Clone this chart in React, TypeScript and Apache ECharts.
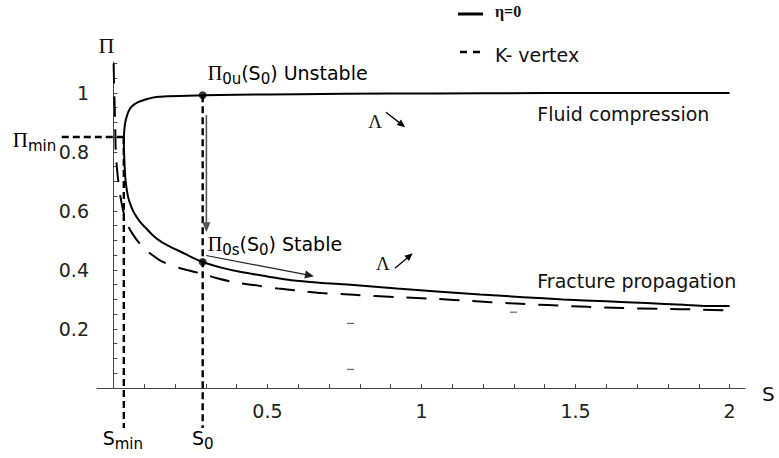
import React, { useEffect, useRef } from "react";
import * as echarts from "echarts";

// ---- data ----
const etaZeroName = "η=0";
const kVertexName = "K- vertex";

// η=0 curve (upper branch right→left, then lower branch left→right)
const etaZero: [number, number][] = [
  [2.0, 1.0], [1.6, 1.0], [1.2, 0.999], [0.9, 0.998], [0.6, 0.996], [0.4, 0.994],
  [0.29, 0.992], [0.178, 0.989], [0.13, 0.985], [0.102, 0.977], [0.08, 0.969],
  [0.064, 0.958], [0.052, 0.943], [0.044, 0.922], [0.038, 0.896], [0.035, 0.865],
  [0.034, 0.835], [0.035, 0.795], [0.037, 0.745], [0.04, 0.7], [0.048, 0.647],
  [0.06, 0.61], [0.069, 0.591], [0.085, 0.566], [0.102, 0.546], [0.128, 0.518],
  [0.156, 0.495], [0.19, 0.476], [0.221, 0.461], [0.255, 0.443], [0.29, 0.427],
  [0.35, 0.408], [0.415, 0.393], [0.5, 0.378], [0.578, 0.365], [0.68, 0.356],
  [0.76, 0.351], [0.92, 0.337], [1.05, 0.327], [1.19, 0.317], [1.33, 0.308],
  [1.46, 0.3], [1.6, 0.294], [1.73, 0.288], [1.85, 0.282], [1.925, 0.278], [2.0, 0.278],
];

const kVertex: [number, number][] = [
  [0.001, 1.1], [0.003, 1.0], [0.006, 0.9], [0.008, 0.8], [0.014, 0.72], [0.022, 0.655],
  [0.03, 0.61], [0.037, 0.58], [0.05, 0.545], [0.064, 0.52], [0.085, 0.49],
  [0.107, 0.467], [0.156, 0.43], [0.22, 0.405], [0.286, 0.388], [0.34, 0.371],
  [0.405, 0.356], [0.47, 0.347], [0.534, 0.337], [0.6, 0.33], [0.675, 0.322],
  [0.78, 0.316], [0.92, 0.308], [1.05, 0.302], [1.16, 0.295], [1.29, 0.287],
  [1.41, 0.281], [1.54, 0.275], [1.65, 0.271], [1.78, 0.268], [1.9, 0.266], [2.0, 0.263],
];

const S0 = 0.29;
const SMIN = 0.034;
const PI_MIN = 0.851;
const PI_0U = 0.992;
const PI_0S = 0.427;

const xTickValues = [0.1, 0.2, 0.3, 0.4, 0.5, 0.6, 0.7, 0.8, 0.9, 1, 1.1, 1.2, 1.3, 1.4, 1.5, 1.6, 1.7, 1.8, 1.9, 2];
const xLabelValues = [0.5, 1, 1.5, 2];
const yTickValues = [0.05, 0.1, 0.15, 0.2, 0.25, 0.3, 0.35, 0.4, 0.45, 0.5, 0.55, 0.6, 0.65, 0.7, 0.75, 0.8, 0.85, 0.9, 0.95, 1, 1.05, 1.1];
const yLabelValues = [0.2, 0.4, 0.6, 0.8, 1];

// annotation anchors in data coordinates
const fluidLabelAt: [number, number] = [1.376, 0.93];
const fractureLabelAt: [number, number] = [1.376, 0.363];
const lambdaUpAt: [number, number] = [0.85, 0.904];
const lambdaUpArrow: [number, number][] = [[0.885, 0.935], [0.947, 0.884]];
const lambdaLowAt: [number, number] = [0.875, 0.423];
const lambdaLowArrow: [number, number][] = [[0.914, 0.406], [0.972, 0.457]];
const dropArrow: [number, number][] = [[0.302, 0.925], [0.302, 0.528]];
const stableArrow: [number, number][] = [[0.301, 0.449], [0.651, 0.379]];
const strayMarks: [number, number][] = [[0.768, 0.219], [0.768, 0.063], [1.297, 0.257]];

const SANS = "DejaVu Sans";
const SERIF = "Liberation Serif";
const INK = "#111";

function arrow(x1: number, y1: number, x2: number, y2: number, color: string, width: number, hl: number, hw: number) {
  const dx = x2 - x1, dy = y2 - y1;
  const L = Math.hypot(dx, dy);
  const ux = dx / L, uy = dy / L;
  const bx = x2 - ux * hl, by = y2 - uy * hl;
  return [
    { type: "line", silent: true, z: 50, shape: { x1, y1, x2: bx + ux * 1, y2: by + uy * 1 }, style: { stroke: color, lineWidth: width } },
    {
      type: "polygon", silent: true, z: 50,
      shape: { points: [[x2, y2], [bx - (uy * hw) / 2, by + (ux * hw) / 2], [bx + (uy * hw) / 2, by - (ux * hw) / 2]] },
      style: { fill: color },
    },
  ];
}

const subRich = {
  p: { fontFamily: SERIF, fontSize: 20, lineHeight: 26, verticalAlign: "middle", color: INK },
  t: { fontFamily: SANS, fontSize: 19, lineHeight: 26, verticalAlign: "middle", color: INK },
  s: { fontFamily: SANS, fontSize: 15, lineHeight: 14, verticalAlign: "bottom", color: INK },
};

export default function App() {
  const ref = useRef<HTMLDivElement>(null);
  useEffect(() => {
    if (!ref.current) return;
    const chart = echarts.init(ref.current, undefined, { renderer: "svg" });
    const axisColor = "#444";
    chart.setOption({
      animation: false,
      backgroundColor: "#fff",
      grid: { left: 97, top: 62, width: 648, height: 326, containLabel: false },
      xAxis: {
        type: "value",
        min: -0.053,
        max: 2.05,
        axisLine: { onZero: true, lineStyle: { color: axisColor, width: 1 } },
        axisTick: { show: true, inside: true, length: 4, customValues: xTickValues, lineStyle: { color: axisColor } },
        axisLabel: {
          customValues: xLabelValues,
          formatter: (v: number) => String(v),
          margin: 13,
          fontSize: 19,
          fontFamily: SANS,
          color: "#222",
        },
        splitLine: { show: false },
      },
      yAxis: {
        type: "value",
        min: 0,
        max: 1.105,
        axisLine: { onZero: true, lineStyle: { color: axisColor, width: 1 } },
        axisTick: { show: true, inside: true, length: 4, customValues: yTickValues, lineStyle: { color: axisColor } },
        axisLabel: {
          customValues: yLabelValues,
          formatter: (v: number) => String(v),
          margin: 8,
          fontSize: 19,
          fontFamily: SANS,
          color: "#222",
        },
        splitLine: { show: false },
      },
      series: [
        {
          name: etaZeroName,
          type: "line",
          data: etaZero,
          showSymbol: false,
          smooth: 0.3,
          lineStyle: { color: "#000", width: 2 },
          z: 5,
        },
        {
          name: kVertexName,
          type: "line",
          data: kVertex,
          showSymbol: false,
          smooth: 0.3,
          lineStyle: { color: "#000", width: 2, type: [20, 13] },
          z: 4,
        },
        {
          type: "scatter",
          data: [[S0, PI_0U], [S0, PI_0S]],
          symbolSize: 8,
          itemStyle: { color: "#000" },
          z: 10,
        },
      ],
    });

    const P = (s: number, p: number) => chart.convertToPixel({ gridIndex: 0 }, [s, p]) as number[];
    const origin = P(0, 0);
    const axisY = origin[1];
    const axisTop = P(0, 1.105);
    const axisRight = P(2.05, 0);
    const dash = { stroke: "#000", lineWidth: 2.4, lineDash: [7, 4] };

    const g: any[] = [];
    const pm = P(SMIN, PI_MIN);
    const pu = P(S0, PI_0U);
    // Π_min horizontal dashed
    g.push({ type: "line", silent: true, z: 40, shape: { x1: pm[0] - 62, y1: pm[1], x2: pm[0], y2: pm[1] }, style: dash });
    // S_min vertical dashed
    g.push({ type: "line", silent: true, z: 40, shape: { x1: pm[0], y1: pm[1], x2: pm[0], y2: axisY + 40 }, style: dash });
    // S_0 vertical dashed
    g.push({ type: "line", silent: true, z: 40, shape: { x1: pu[0], y1: pu[1], x2: pu[0], y2: axisY + 40 }, style: dash });

    // arrows
    const da0 = P(dropArrow[0][0], dropArrow[0][1]);
    const da1 = P(dropArrow[1][0], dropArrow[1][1]);
    g.push(...arrow(da0[0], da0[1], da1[0], da1[1], "#555", 1.6, 10, 8));
    const sa0 = P(stableArrow[0][0], stableArrow[0][1]);
    const sa1 = P(stableArrow[1][0], stableArrow[1][1]);
    g.push(...arrow(sa0[0], sa0[1], sa1[0], sa1[1], "#222", 1.2, 9, 8));
    const lu0 = P(lambdaUpArrow[0][0], lambdaUpArrow[0][1]);
    const lu1 = P(lambdaUpArrow[1][0], lambdaUpArrow[1][1]);
    g.push(...arrow(lu0[0], lu0[1], lu1[0], lu1[1], "#000", 1.3, 8, 7));
    const ll0 = P(lambdaLowArrow[0][0], lambdaLowArrow[0][1]);
    const ll1 = P(lambdaLowArrow[1][0], lambdaLowArrow[1][1]);
    g.push(...arrow(ll0[0], ll0[1], ll1[0], ll1[1], "#000", 1.3, 8, 7));

    // Λ labels
    const lu = P(lambdaUpAt[0], lambdaUpAt[1]);
    const ll = P(lambdaLowAt[0], lambdaLowAt[1]);
    for (const pt of [lu, ll]) {
      g.push({
        type: "text", silent: true, z: 50, x: pt[0], y: pt[1],
        style: { text: "Λ", fontFamily: SERIF, fontSize: 19, fill: INK, align: "center", verticalAlign: "middle" },
      });
    }

    // region labels
    const fl = P(fluidLabelAt[0], fluidLabelAt[1]);
    g.push({
      type: "text", silent: true, z: 50, x: fl[0], y: fl[1],
      style: { text: "Fluid compression", fontFamily: SANS, fontSize: 19, fill: INK, align: "left", verticalAlign: "middle" },
    });
    const fr = P(fractureLabelAt[0], fractureLabelAt[1]);
    g.push({
      type: "text", silent: true, z: 50, x: fr[0], y: fr[1],
      style: { text: "Fracture propagation", fontFamily: SANS, fontSize: 19, fill: INK, align: "left", verticalAlign: "middle" },
    });

    // Π_0u(S_0) Unstable / Π_0s(S_0) Stable
    g.push({
      type: "text", silent: true, z: 50, x: pu[0] + 5, y: pu[1] - 22,
      style: { text: "{p|Π}{s|0u}{t|(S}{s|0}{t|) Unstable}", rich: subRich, align: "left", verticalAlign: "middle" },
    });
    const ps = P(S0, PI_0S);
    g.push({
      type: "text", silent: true, z: 50, x: ps[0] + 5, y: ps[1] - 18,
      style: { text: "{p|Π}{s|0s}{t|(S}{s|0}{t|) Stable}", rich: subRich, align: "left", verticalAlign: "middle" },
    });

    // Π_min label
    g.push({
      type: "text", silent: true, z: 50, x: pm[0] - 111, y: pm[1] + 3,
      style: {
        text: "{p|Π}{s|min}",
        rich: {
          p: { fontFamily: SERIF, fontSize: 21, lineHeight: 28, verticalAlign: "middle", color: INK },
          s: { fontFamily: SANS, fontSize: 15, lineHeight: 15, verticalAlign: "bottom", color: INK },
        },
        align: "left",
        verticalAlign: "middle",
      },
    });
    // S_min / S_0 labels under the axis
    const sRich = {
      t: { fontFamily: SANS, fontSize: 19, lineHeight: 26, verticalAlign: "middle", color: INK },
      s: { fontFamily: SANS, fontSize: 15, lineHeight: 15, verticalAlign: "bottom", color: INK },
    };
    g.push({
      type: "text", silent: true, z: 50, x: pm[0] - 1, y: axisY + 50,
      style: { text: "{t|S}{s|min}", rich: sRich, align: "center", verticalAlign: "middle" },
    });
    g.push({
      type: "text", silent: true, z: 50, x: pu[0], y: axisY + 50,
      style: { text: "{t|S}{s|0}", rich: sRich, align: "center", verticalAlign: "middle" },
    });

    // axis names
    g.push({
      type: "text", silent: true, z: 50, x: axisTop[0] - 7, y: axisTop[1] - 17,
      style: { text: "Π", fontFamily: SERIF, fontSize: 22, fill: INK, align: "center", verticalAlign: "middle" },
    });
    g.push({
      type: "text", silent: true, z: 50, x: axisRight[0] + 17, y: axisY + 6,
      style: { text: "S", fontFamily: SANS, fontSize: 20, fill: INK, align: "left", verticalAlign: "middle" },
    });

    // stray tick-like marks present in the reference
    for (const m of strayMarks) {
      const q = P(m[0], m[1]);
      g.push({ type: "line", silent: true, z: 30, shape: { x1: q[0] - 3, y1: q[1], x2: q[0] + 4, y2: q[1] }, style: { stroke: "#666", lineWidth: 1.2 } });
    }

    // legend
    g.push({ type: "line", silent: true, z: 50, shape: { x1: 458, y1: 14, x2: 483, y2: 14 }, style: { stroke: "#000", lineWidth: 3 } });
    g.push({
      type: "text", silent: true, z: 50, x: 495, y: 11,
      style: { text: etaZeroName, fontFamily: SERIF, fontWeight: "bold", fontSize: 16, fill: INK, align: "left", verticalAlign: "middle" },
    });
    g.push({ type: "line", silent: true, z: 50, shape: { x1: 460, y1: 52, x2: 483, y2: 52 }, style: { stroke: "#000", lineWidth: 2.5, lineDash: [7, 6] } });
    g.push({
      type: "text", silent: true, z: 50, x: 495, y: 55,
      style: { text: kVertexName, fontFamily: SANS, fontSize: 19, fill: INK, align: "left", verticalAlign: "middle" },
    });

    chart.setOption({ graphic: g });

    return () => chart.dispose();
  }, []);

  return (
    <div
      ref={ref}
      style={{ position: "fixed", left: 0, top: 0, width: 779, height: 458, background: "#fff" }}
    />
  );
}
